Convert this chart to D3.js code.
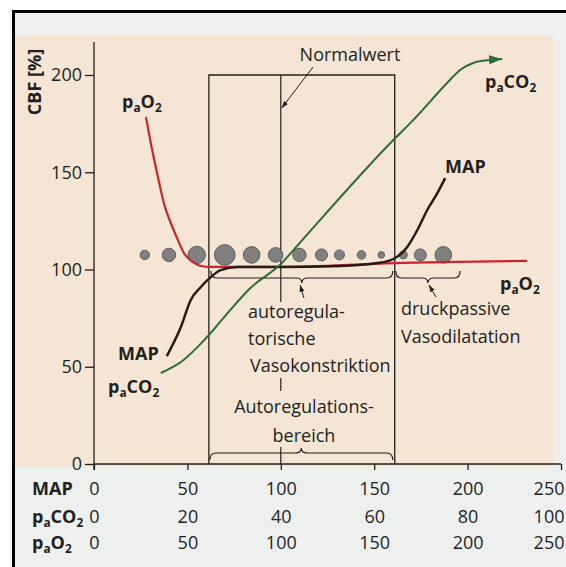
<!DOCTYPE html>
<html><head><meta charset="utf-8">
<script src="https://cdn.jsdelivr.net/npm/d3@7/dist/d3.min.js"></script>
<style>html,body{margin:0;padding:0;background:#fff;overflow:hidden}</style>
</head><body>
<svg id="c" width="566" height="567"></svg>
<script>
// ---------- data ----------
const yTicks = [0, 50, 100, 150, 200];
const mapTicks = [0, 50, 100, 150, 200, 250];
const paco2Ticks = [0, 20, 40, 60, 80, 100];
const pao2Ticks = [0, 50, 100, 150, 200, 250];

const mapCurveX   = [39, 46.5, 51.8, 57.2, 62.5, 67.8, 76.9, 100, 132, 151.7, 160.3, 167.7, 173.1, 178.4, 183.8, 188];
const mapCurveCBF = [55.5, 70.4, 84.3, 91, 96.1, 99.7, 101.3, 101.3, 101.8, 103.3, 105.4, 111.6, 120.3, 130.6, 139.3, 147];

const paco2CurveX   = [14.3, 19.2, 22.2, 25, 28.6, 33.5, 40, 44.2, 64.1, 68.4, 75.6, 78.4, 81.2, 84.8, 87.4];
const paco2CurveCBF = [46.8, 53.5, 60.2, 67.4, 77.6, 90.5, 102.8, 114.1, 166.6, 176.9, 195.9, 202.6, 206.2, 207.7, 208.2];

const pao2CurveX   = [27.8, 30.4, 34.2, 37.4, 41.1, 44.9, 48.1, 52.9, 57.2, 62.5, 100, 160.3, 231.8];
const pao2CurveCBF = [178.4, 165, 147.6, 134.2, 123.9, 115.2, 108.5, 103.9, 101.8, 101.3, 101.3, 103.3, 104.4];

const vesselMAP      = [27.2, 40.1, 55, 70, 84.4, 97.2, 110, 121.8, 131.4, 143.2, 153.8, 165.6, 174.7, 187];
const vesselDiameter = [4.7, 6.7, 8.7, 10.3, 8.3, 7.3, 6.7, 6, 5, 4.3, 3.3, 4, 6, 8.3];
const vesselCBF = 107.5;

const autoregRange = [61.5, 161];
const normalMAP = 100;
const boxTopCBF = 200;

// ---------- setup ----------
const W = 566, H = 567;
const svg = d3.select('#c');
const FONT = "'Open Sans', 'Noto Sans', sans-serif";
const INK = '#231f1f';

const x  = d3.scaleLinear().domain([0, 250]).range([94, 561]);  // MAP & paO2
const xc = d3.scaleLinear().domain([0, 100]).range([94, 561]);  // paCO2
const y  = d3.scaleLinear().domain([0, 200]).range([464, 75]);
const r  = d3.scaleLinear().domain([0, 10]).range([0, 10]);

// backgrounds
svg.append('rect').attr('width', W).attr('height', H).attr('fill', '#ffffff');
svg.append('rect').attr('x', 13).attr('y', 12).attr('width', W).attr('height', H).attr('fill', '#eef0ef');
svg.append('rect').attr('x', 15).attr('y', 35).attr('width', 538).attr('height', 432).attr('fill', '#f4e5d5');
// frame
svg.append('path').attr('d', 'M13.5,567V11.5H566').attr('stroke', '#000').attr('stroke-width', 3).attr('fill', 'none');

const defs = svg.append('defs');
function marker(id, color, w, h) {
  defs.append('marker').attr('id', id).attr('viewBox', `0 0 ${w} ${h}`)
    .attr('refX', w).attr('refY', h / 2).attr('markerWidth', w).attr('markerHeight', h)
    .attr('markerUnits', 'userSpaceOnUse').attr('orient', 'auto')
    .append('path').attr('d', `M0,0L${w},${h / 2}L0,${h}Z`).attr('fill', color);
}
marker('arrG', '#2f6b35', 13, 9);
marker('arrK', INK, 7, 5);

// ---------- text helper ----------
function rich(xp, yp, parts, opts = {}) {
  const t = svg.append('text').attr('x', xp).attr('y', yp)
    .attr('font-family', FONT).attr('font-size', opts.size || 18)
    .attr('font-weight', opts.bold ? 700 : 400)
    .attr('fill', INK).attr('text-anchor', opts.anchor || 'start');
  let prevSub = false;
  parts.forEach(p => {
    const isSub = Array.isArray(p);
    const s = isSub ? p[0] : p;
    const ts = t.append('tspan').text(s);
    if (isSub) { ts.attr('dy', 4).attr('font-size', '0.66em'); }
    else if (prevSub) { ts.attr('dy', -4); }
    prevSub = isSub;
  });
  return t;
}

// ---------- normal range box ----------
const bx0 = x(autoregRange[0]), bx1 = x(autoregRange[1]);
svg.append('path')
  .attr('d', `M${bx0},${y(0)}V${y(boxTopCBF)}H${bx1}V${y(0)}`)
  .attr('fill', 'none').attr('stroke', INK).attr('stroke-width', 1.3);
// normal value line (broken by labels)
const xn = x(normalMAP);
[[y(boxTopCBF), 302], [378, 391], [447, y(0)]].forEach(([a, b]) => {
  svg.append('line').attr('x1', xn).attr('x2', xn).attr('y1', a).attr('y2', b)
    .attr('stroke', INK).attr('stroke-width', 1.2);
});

// ---------- braces ----------
function brace(x1, x2, yb, dir) {
  const xm = (x1 + x2) / 2, e = 7, t = 5, c = 6;
  return `M${x1},${yb - dir * e}Q${x1},${yb} ${x1 + c},${yb}L${xm - c},${yb}Q${xm},${yb} ${xm},${yb + dir * t}` +
         `Q${xm},${yb} ${xm + c},${yb}L${x2 - c},${yb}Q${x2},${yb} ${x2},${yb - dir * e}`;
}
const braceStyle = s => s.attr('fill', 'none').attr('stroke', INK).attr('stroke-width', 1.2);
svg.append('path').attr('d', brace(bx0 + 2, bx1 - 2, 278, 1)).call(braceStyle);
svg.append('path').attr('d', brace(bx1 + 1, x(196), 278, 1)).call(braceStyle);
svg.append('path').attr('d', brace(bx0 + 1, bx1 - 2, 453, -1)).call(braceStyle);

// ---------- axes ----------
// y axis
svg.append('line').attr('x1', x(0)).attr('x2', x(0)).attr('y1', 42).attr('y2', y(0) + 6)
  .attr('stroke', INK).attr('stroke-width', 1.3);
const gy = svg.append('g').attr('transform', `translate(${x(0)},0)`)
  .call(d3.axisLeft(y).tickValues(yTicks).tickSize(9).tickPadding(3));
gy.select('.domain').remove();
gy.selectAll('line').attr('stroke', INK).attr('stroke-width', 1.3);
gy.selectAll('text').attr('font-family', FONT).attr('font-size', 18).attr('fill', INK);

// x axes (three rows share positions)
svg.append('line').attr('x1', x(0)).attr('x2', x(250)).attr('y1', y(0)).attr('y2', y(0))
  .attr('stroke', INK).attr('stroke-width', 1.3);
function xRow(scale, ticks, baseline, tickLen) {
  const g = svg.append('g').attr('transform', `translate(0,${y(0)})`)
    .call(d3.axisBottom(scale).tickValues(ticks).tickSize(tickLen));
  g.select('.domain').remove();
  g.selectAll('line').attr('stroke', INK).attr('stroke-width', 1.3);
  g.selectAll('text').attr('y', baseline - y(0)).attr('dy', 0)
    .attr('font-family', FONT).attr('font-size', 18).attr('fill', INK);
  // keep the last label inside the page edge
  g.selectAll('.tick').filter((d, i, n) => i === n.length - 1).select('text')
    .attr('text-anchor', 'end').attr('x', W - 2 - scale(ticks[ticks.length - 1]));
}
xRow(x, mapTicks, 495, 6);
xRow(xc, paco2Ticks, 523, 0);
xRow(x, pao2Ticks, 549, 0);
rich(32, 495, ['MAP'], { bold: true });
rich(32, 523, ['p', ['a'], 'CO', ['2']], { bold: true });
rich(32, 549, ['p', ['a'], 'O', ['2']], { bold: true });

// y title
svg.append('text').attr('transform', 'translate(41,82) rotate(-90)')
  .attr('text-anchor', 'middle').attr('font-family', FONT).attr('font-size', 18)
  .attr('font-weight', 700).attr('fill', INK).text('CBF [%]');

// ---------- vessels ----------
svg.append('g').selectAll('circle').data(vesselMAP).join('circle')
  .attr('cx', d => x(d)).attr('cy', y(vesselCBF))
  .attr('r', (d, i) => r(vesselDiameter[i]))
  .attr('fill', '#808080').attr('stroke', '#5e5e5e').attr('stroke-width', 1);

// ---------- curves ----------
const line = (sx) => d3.line().x(d => sx(d[0])).y(d => y(d[1])).curve(d3.curveMonotoneX);
svg.append('path').datum(d3.zip(pao2CurveX, pao2CurveCBF))
  .attr('d', line(x)).attr('fill', 'none').attr('stroke', '#c8262c').attr('stroke-width', 2.2);
svg.append('path').datum(d3.zip(mapCurveX, mapCurveCBF))
  .attr('d', line(x)).attr('fill', 'none').attr('stroke', '#2a1a16').attr('stroke-width', 2.5);
svg.append('path').datum(d3.zip(paco2CurveX, paco2CurveCBF))
  .attr('d', line(xc)).attr('fill', 'none').attr('stroke', '#2f6b35').attr('stroke-width', 2)
  .attr('marker-end', 'url(#arrG)');

// ---------- annotations ----------
rich(350, 61, ['Normalwert'], { anchor: 'middle' });
svg.append('line').attr('x1', 313).attr('y1', 67).attr('x2', xn + 1).attr('y2', 108)
  .attr('stroke', INK).attr('stroke-width', 1).attr('marker-end', 'url(#arrK)');

rich(122, 108, ['p', ['a'], 'O', ['2']], { bold: true });
rich(485, 88, ['p', ['a'], 'CO', ['2']], { bold: true });
rich(445, 173, ['MAP'], { bold: true });
rich(500, 290, ['p', ['a'], 'O', ['2']], { bold: true });
rich(118, 360, ['MAP'], { bold: true });
rich(108, 393, ['p', ['a'], 'CO', ['2']], { bold: true });

rich(248, 318, ['autoregula-']);
rich(248, 345, ['torische']);
rich(250, 372, ['Vasokonstriktion']);
svg.append('line').attr('x1', 304).attr('y1', 298).attr('x2', 300).attr('y2', 285)
  .attr('stroke', INK).attr('stroke-width', 1).attr('marker-end', 'url(#arrK)');

rich(401, 315, ['druckpassive']);
rich(401, 343, ['Vasodilatation']);
svg.append('line').attr('x1', 436).attr('y1', 297).attr('x2', 429).attr('y2', 285)
  .attr('stroke', INK).attr('stroke-width', 1).attr('marker-end', 'url(#arrK)');

rich(304, 413, ['Autoregulations-'], { anchor: 'middle' });
rich(304, 442, ['bereich'], { anchor: 'middle' });
</script>
</body></html>
